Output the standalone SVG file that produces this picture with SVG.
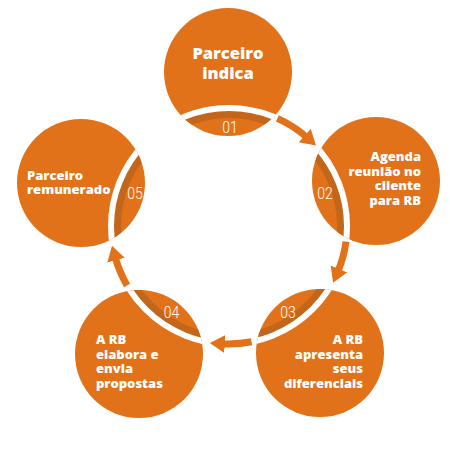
<svg xmlns="http://www.w3.org/2000/svg" width="450" height="450" viewBox="0 0 450 450">
<style>
.c{fill:#E17219}
.band{fill:none;stroke:#C2661B;stroke-width:7}
.gap{fill:none;stroke:#FFFFFF;stroke-width:6}
.lbl{font-family:"Open Sans","Liberation Sans",sans-serif;font-weight:800;font-size:13px;fill:#FFFFFF}
.big{font-size:16.5px}
.num{font-family:Roboto,"Liberation Sans",sans-serif;font-weight:300;font-size:16.5px;fill:#FFFFFF}
.arc{fill:none;stroke:#E17219;stroke-width:7}
</style>
<defs>
<clipPath id="k1"><circle cx="228" cy="72" r="64"/></clipPath>
<clipPath id="k2"><circle cx="376" cy="181" r="64"/></clipPath>
<clipPath id="k3"><circle cx="320" cy="353" r="64"/></clipPath>
<clipPath id="k4"><circle cx="139" cy="354" r="64"/></clipPath>
<clipPath id="k5"><circle cx="81" cy="183" r="64"/></clipPath>
<marker id="ah" markerUnits="userSpaceOnUse" markerWidth="18" markerHeight="20" refX="3" refY="9" orient="auto">
<path d="M0,0 L15,9 L0,18 Z" fill="#E17219"/>
</marker>
</defs>
<g id="node1">
<circle class="c" cx="228" cy="72" r="64"/>
<g clip-path="url(#k1)"><circle class="band" cx="229" cy="226" r="111.5"/><circle class="gap" cx="229" cy="226" r="118"/></g>
<text class="lbl big" text-anchor="middle"><tspan x="228" y="59">Parceiro</tspan><tspan x="228" y="79">indica</tspan></text>
<text class="num" transform="translate(230,133) scale(0.85,1)" text-anchor="middle">01</text>
</g>
<g id="node2">
<circle class="c" cx="376" cy="181" r="64"/>
<g clip-path="url(#k2)"><circle class="band" cx="229" cy="226" r="111.5"/><circle class="gap" cx="229" cy="226" r="118"/></g>
<text class="lbl" text-anchor="end"><tspan x="421" y="161">Agenda</tspan><tspan x="421" y="175.5">reunião no</tspan><tspan x="421" y="190">cliente</tspan><tspan x="421" y="204.5">para RB</tspan></text>
<text class="num" transform="translate(325,199) scale(0.85,1)" text-anchor="middle">02</text>
</g>
<g id="node3">
<circle class="c" cx="320" cy="353" r="64"/>
<g clip-path="url(#k3)"><circle class="band" cx="229" cy="226" r="111.5"/><circle class="gap" cx="229" cy="226" r="118"/></g>
<text class="lbl" text-anchor="end"><tspan x="363" y="344">A RB</tspan><tspan x="363" y="358.5">apresenta</tspan><tspan x="363" y="373">seus</tspan><tspan x="363" y="387.5">diferenciais</tspan></text>
<text class="num" transform="translate(288,318) scale(0.85,1)" text-anchor="middle">03</text>
</g>
<g id="node4">
<circle class="c" cx="139" cy="354" r="64"/>
<g clip-path="url(#k4)"><circle class="band" cx="229" cy="226" r="111.5"/><circle class="gap" cx="229" cy="226" r="118"/></g>
<text class="lbl"><tspan x="96" y="344">A RB</tspan><tspan x="96" y="358.5">elabora e</tspan><tspan x="96" y="373">envia</tspan><tspan x="96" y="387.5">propostas</tspan></text>
<text class="num" transform="translate(171.5,318) scale(0.85,1)" text-anchor="middle">04</text>
</g>
<g id="node5">
<circle class="c" cx="81" cy="183" r="64"/>
<g clip-path="url(#k5)"><circle class="band" cx="229" cy="226" r="111.5"/><circle class="gap" cx="229" cy="226" r="118"/></g>
<text class="lbl"><tspan x="27" y="180">Parceiro</tspan><tspan x="27" y="194">remunerado</tspan></text>
<text class="num" transform="translate(135,199) scale(0.85,1)" text-anchor="middle">05</text>
</g>
<g id="connectors">
<path class="arc" marker-end="url(#ah)" d="M277.4,118.4 A118,118 0 0 1 307.0,137.5"/>
<path class="arc" marker-end="url(#ah)" d="M346.0,241.6 A118,118 0 0 1 337.8,271.7"/>
<path class="arc" marker-end="url(#ah)" d="M251.5,341.8 A118,118 0 0 1 221.8,343.8"/>
<path class="arc" marker-end="url(#ah)" d="M127.1,285.5 A118,118 0 0 1 115.2,257.3"/>
</g>
</svg>
